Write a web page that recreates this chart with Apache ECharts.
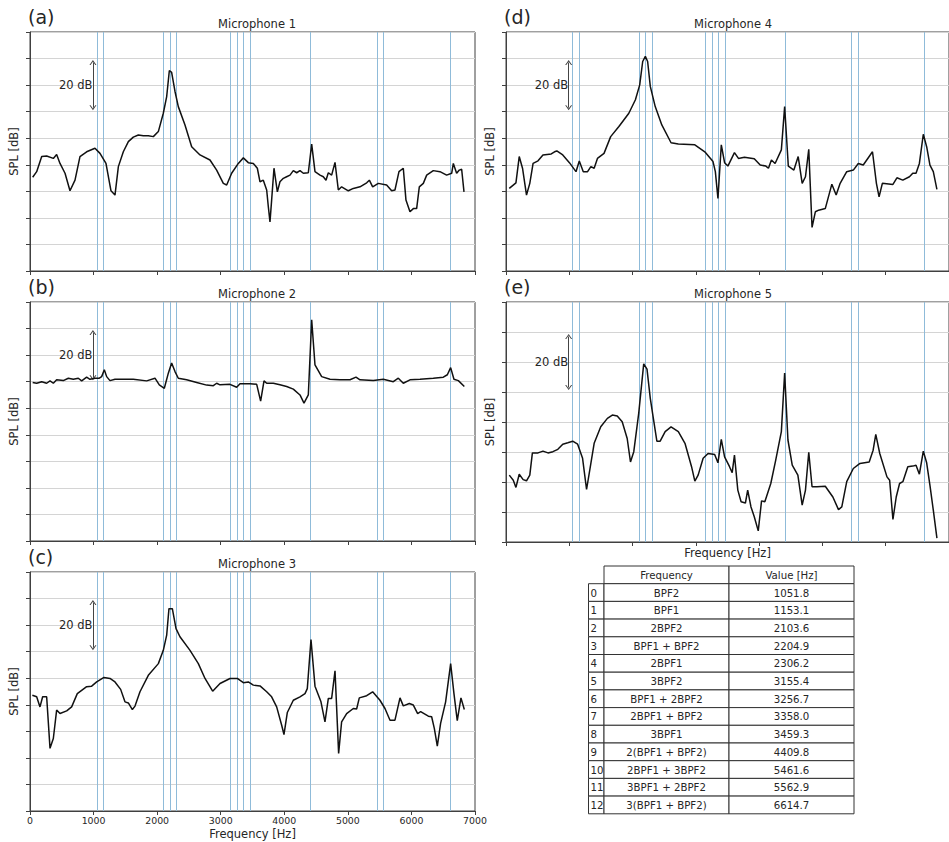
<!DOCTYPE html>
<html>
<head>
<meta charset="utf-8">
<script src="https://cdn.jsdelivr.net/npm/echarts@6/dist/echarts.min.js"></script>
<style>
html,body{margin:0;padding:0;background:#fff;}
#chart{width:949px;height:842px;}
</style>
</head>
<body>
<div id="chart"></div>
<script>
// ---------------- DATA ----------------
const harmonicLabels = ['BPF2','BPF1','2BPF2','BPF1 + BPF2','2BPF1','3BPF2','BPF1 + 2BPF2','2BPF1 + BPF2','3BPF1','2(BPF1 + BPF2)','2BPF1 + 3BPF2','3BPF1 + 2BPF2','3(BPF1 + BPF2)'];
const harmonicFreqs = [1051.8,1153.1,2103.6,2204.9,2306.2,3155.4,3256.7,3358.0,3459.3,4409.8,5461.6,5562.9,6614.7];
const tableHeader = ['Frequency','Value [Hz]'];
const panelLabels = ['(a)','(b)','(c)','(d)','(e)'];
const panelTitles = ['Microphone 1','Microphone 2','Microphone 3','Microphone 4','Microphone 5'];

// SPL spectra: [frequency Hz, SPL dB] (relative level)
const mic1 = [[42,35.3],[105,37.4],[184,43.1],[262,43.3],[367,42.4],[419,43.9],[472,40.5],[551,36.8],[629,30.2],[708,34.2],[786,43.1],[891,44.9],[1022,46.2],[1101,44.3],[1195,40.5],[1274,30.2],[1337,28.6],[1390,39.3],[1468,44.9],[1547,48.7],[1625,50.4],[1704,51.2],[1783,50.9],[1861,50.9],[1940,50.6],[2019,52.5],[2097,59.4],[2150,65.7],[2192,75.5],[2228,74.8],[2281,67.6],[2333,61.9],[2438,55.0],[2543,46.8],[2674,43.7],[2831,41.8],[2936,38.0],[3041,33.0],[3094,32.4],[3172,36.8],[3277,40.5],[3356,42.6],[3434,40.8],[3513,40.5],[3576,38.7],[3618,33.6],[3670,34.2],[3723,30.5],[3749,24.2],[3775,18.5],[3801,26.7],[3838,38.7],[3891,29.8],[3932,33.6],[3985,34.9],[4037,35.5],[4090,36.1],[4142,37.8],[4195,37.0],[4247,37.8],[4300,36.8],[4378,37.0],[4431,47.8],[4483,37.4],[4562,36.1],[4614,35.5],[4656,34.2],[4693,37.0],[4745,36.1],[4798,40.9],[4850,30.5],[4902,31.7],[5007,30.2],[5086,31.1],[5191,31.7],[5296,33.2],[5338,34.2],[5390,31.7],[5479,33.0],[5610,32.4],[5689,30.2],[5741,30.5],[5804,37.4],[5872,38.7],[5914,26.7],[5977,22.3],[6030,23.5],[6082,23.5],[6124,31.7],[6187,33.0],[6240,36.1],[6344,37.8],[6449,37.4],[6554,36.1],[6633,36.8],[6659,40.5],[6711,36.8],[6753,38.0],[6790,38.3],[6827,29.8]];
const mic2 = [[42,59.7],[105,59.4],[184,60.0],[262,59.4],[315,60.3],[367,59.4],[419,60.7],[524,60.4],[603,61.3],[681,60.9],[760,61.3],[813,60.3],[891,61.7],[943,60.9],[1022,61.3],[1091,61.3],[1127,61.9],[1169,64.5],[1206,61.9],[1258,60.4],[1337,60.9],[1468,60.9],[1625,60.9],[1835,60.3],[1966,61.3],[2034,58.8],[2113,57.5],[2176,63.2],[2228,67.0],[2281,63.8],[2333,61.3],[2464,60.7],[2622,59.7],[2779,58.7],[2884,58.5],[2936,59.4],[2989,58.8],[3146,59.0],[3251,57.9],[3303,59.2],[3461,59.2],[3566,59.0],[3628,52.7],[3681,60.3],[3723,59.4],[3828,59.4],[3932,58.8],[4037,58.2],[4142,57.2],[4247,55.0],[4310,51.9],[4378,55.0],[4431,83.3],[4483,66.3],[4588,61.9],[4719,60.9],[4876,60.7],[5034,60.7],[5128,61.7],[5191,60.7],[5400,60.4],[5558,60.9],[5715,60.0],[5794,61.3],[5872,59.4],[5977,60.7],[6135,60.9],[6344,61.3],[6502,61.7],[6565,62.6],[6617,65.3],[6669,60.9],[6738,60.4],[6832,58.2]];
const mic3 = [[37,43.6],[105,43.0],[157,39.2],[199,43.0],[262,43.0],[315,23.6],[367,27.3],[419,38.0],[472,36.7],[577,37.7],[655,39.2],[744,44.2],[891,46.8],[970,47.0],[1049,48.6],[1164,50.3],[1258,49.9],[1337,48.6],[1426,45.8],[1494,41.1],[1547,40.7],[1610,38.2],[1652,39.5],[1730,44.9],[1861,51.1],[2019,55.5],[2097,60.5],[2150,66.2],[2186,76.2],[2239,76.2],[2297,68.7],[2359,65.6],[2517,60.5],[2648,55.5],[2753,49.9],[2873,45.1],[2989,48.0],[3146,49.9],[3261,49.9],[3356,48.3],[3434,48.6],[3513,47.4],[3618,47.1],[3723,44.9],[3801,43.0],[3880,39.2],[3959,32.3],[3995,28.8],[4048,37.1],[4142,41.7],[4247,43.0],[4326,44.2],[4362,46.1],[4420,64.6],[4483,47.0],[4577,41.1],[4640,33.6],[4693,42.4],[4745,42.4],[4798,52.8],[4855,21.7],[4902,33.6],[4981,36.7],[5086,38.6],[5138,38.4],[5180,42.6],[5296,43.4],[5390,44.9],[5505,41.7],[5584,38.6],[5663,34.2],[5741,34.2],[5820,42.6],[5872,39.6],[5967,40.5],[6030,39.9],[6098,36.7],[6145,37.4],[6266,35.7],[6318,35.5],[6360,31.1],[6407,24.4],[6459,33.0],[6538,41.1],[6617,55.5],[6669,44.2],[6721,34.0],[6779,42.6],[6832,38.2]];
const mic4 = [[52,31.1],[157,33.2],[209,43.1],[261,38.7],[324,28.6],[376,33.0],[428,40.5],[506,41.5],[584,43.7],[715,44.1],[767,44.9],[803,45.2],[897,43.7],[1002,40.8],[1106,37.4],[1158,41.4],[1221,37.4],[1289,37.4],[1341,39.3],[1393,38.7],[1445,42.4],[1549,44.3],[1654,50.6],[1784,54.4],[1941,59.4],[2045,64.5],[2113,70.1],[2160,78.9],[2202,80.8],[2238,78.9],[2280,69.5],[2358,61.9],[2462,55.0],[2608,48.3],[2723,47.8],[2984,47.5],[3141,44.9],[3271,41.2],[3308,37.4],[3349,27.3],[3402,47.5],[3454,40.8],[3506,39.5],[3610,44.6],[3673,42.4],[3767,42.8],[3923,42.3],[4017,39.9],[4106,39.5],[4147,38.7],[4194,41.8],[4252,40.5],[4351,45.6],[4403,61.9],[4461,39.5],[4549,38.0],[4617,43.1],[4680,33.0],[4732,35.5],[4784,45.8],[4836,16.4],[4888,22.3],[4940,22.9],[5045,23.5],[5149,32.7],[5217,28.6],[5280,33.0],[5384,37.4],[5488,38.0],[5567,40.5],[5645,39.9],[5791,44.9],[5853,33.0],[5895,27.9],[5947,33.0],[6114,32.6],[6177,35.1],[6270,34.2],[6375,35.5],[6427,36.8],[6479,36.8],[6532,40.5],[6594,51.5],[6647,46.8],[6699,39.9],[6752,37.4],[6809,30.7]];
const mic5 = [[52,22.3],[115,20.6],[157,18.2],[209,22.6],[271,20.8],[324,20.4],[376,22.3],[417,29.7],[506,29.7],[584,30.3],[663,29.7],[741,30.1],[819,30.9],[897,32.6],[976,33.1],[1054,33.6],[1132,32.6],[1210,27.9],[1273,17.5],[1341,26.2],[1393,32.9],[1497,38.4],[1602,41.2],[1680,42.3],[1758,42.0],[1836,40.1],[1915,34.5],[1967,26.7],[2019,30.1],[2097,42.9],[2176,59.4],[2228,57.6],[2280,47.9],[2332,40.7],[2384,33.6],[2436,33.6],[2515,36.8],[2608,38.4],[2723,36.8],[2828,32.9],[2932,25.1],[2984,20.3],[3036,22.3],[3115,27.9],[3193,29.5],[3297,29.2],[3349,26.4],[3402,34.2],[3454,28.4],[3532,25.1],[3574,23.1],[3610,29.0],[3663,17.3],[3715,13.4],[3783,13.0],[3819,17.3],[3871,11.7],[3923,8.4],[3986,3.7],[4038,13.7],[4090,13.4],[4184,19.5],[4262,27.3],[4351,36.8],[4403,56.3],[4455,34.0],[4523,25.6],[4612,22.3],[4680,12.3],[4732,17.3],[4784,29.9],[4836,18.4],[4914,18.4],[5045,18.6],[5165,15.0],[5254,10.8],[5306,11.7],[5384,20.1],[5488,24.5],[5593,26.2],[5739,26.7],[5801,30.6],[5843,35.9],[5906,29.5],[6020,21.7],[6062,20.6],[6114,7.5],[6166,15.0],[6219,19.5],[6271,20.1],[6349,25.1],[6427,25.3],[6479,25.6],[6532,22.6],[6594,30.3],[6647,26.4],[6699,18.9],[6752,10.6],[6809,1.3]];
const spectra = [mic1, mic2, mic3, mic4, mic5];
const yMaxes = [90, 90, 90, 90, 80];
const arrowCentres = [70, 70, 70, 70, 60];
const arrowFreq = 990;
const arrowHalf = 8.5;
const arrowText = '20 dB';

// ---------------- LAYOUT ----------------
const FONT = 'DejaVu Sans';
const TXT = '#262626';
const AX = '#404040';
const grids = [
  {left: 30, top: 32, width: 445, height: 239},
  {left: 30, top: 302, width: 445, height: 239},
  {left: 30, top: 572, width: 445, height: 239},
  {left: 506, top: 32, width: 446.6, height: 239},
  {left: 506, top: 302, width: 446.6, height: 240}
];
const showTickLabels = [false, false, true, false, false];
const showXName = [false, false, true, false, true];
const xNameGap = [0, 0, 17, 0, 5];

const chev = 'path://M0,10 L5,0 L10,10 L8.4,10 L5,3.2 L1.6,10 Z';

const xAxes = [], yAxes = [], series = [], gridOpts = [], graphics = [];
grids.forEach((g, i) => {
  gridOpts.push({left: g.left, top: g.top, width: g.width, height: g.height, show: true,
    borderColor: AX, borderWidth: 1, backgroundColor: 'transparent', containLabel: false});
  xAxes.push({
    type: 'value', gridIndex: i, min: 0, max: 7000, interval: 1000,
    name: showXName[i] ? 'Frequency [Hz]' : '', nameLocation: 'middle', nameGap: xNameGap[i],
    nameTextStyle: {fontFamily: FONT, fontSize: 11.5, color: TXT},
    axisLine: {show: true, onZero: false, lineStyle: {color: AX, width: 1}},
    axisTick: {show: true, length: 4, lineStyle: {color: AX, width: 1}},
    axisLabel: {show: showTickLabels[i], fontFamily: FONT, fontSize: 9.4, color: TXT, margin: 5,
      formatter: v => String(v)},
    splitLine: {show: false}
  });
  yAxes.push({
    type: 'value', gridIndex: i, min: 0, max: yMaxes[i], interval: 10,
    name: 'SPL [dB]', nameLocation: 'middle', nameGap: 10,
    nameTextStyle: {fontFamily: FONT, fontSize: 11.5, color: TXT},
    axisLine: {show: true, lineStyle: {color: AX, width: 1}},
    axisTick: {show: true, length: 4, lineStyle: {color: AX, width: 1}},
    axisLabel: {show: false},
    splitLine: {show: true, lineStyle: {color: '#d4d4d4', width: 1}}
  });
  // harmonic marker lines
  series.push({
    type: 'line', xAxisIndex: i, yAxisIndex: i, data: [], z: 1, silent: true,
    markLine: {
      silent: true, animation: false, symbol: ['none', 'none'],
      label: {show: false},
      lineStyle: {color: '#8fbbd9', width: 1, type: 'solid'},
      emphasis: {disabled: true},
      data: harmonicFreqs.map(f => ({xAxis: f}))
    }
  });
  // spectrum
  series.push({
    type: 'line', xAxisIndex: i, yAxisIndex: i, data: spectra[i], z: 5,
    showSymbol: false, symbol: 'none', smooth: false, silent: true,
    lineStyle: {color: '#111', width: 1.5},
    markLine: {
      silent: true, animation: false, symbol: [chev, chev], symbolSize: [7, 5],
      label: {show: false},
      lineStyle: {color: '#444', width: 1, type: 'solid'},
      emphasis: {disabled: true},
      data: [[{coord: [arrowFreq, arrowCentres[i] + arrowHalf]}, {coord: [arrowFreq, arrowCentres[i] - arrowHalf]}]]
    },
    markPoint: {
      silent: true, animation: false, symbol: 'circle', symbolSize: 1,
      itemStyle: {color: 'rgba(0,0,0,0)'},
      label: {show: true, position: 'left', distance: 0, formatter: arrowText,
        fontFamily: FONT, fontSize: 11.5, color: TXT},
      data: [{coord: [arrowFreq, arrowCentres[i]]}]
    }
  });
  // panel letter
  graphics.push({type: 'text', x: g.left - 2, y: g.top - 15, silent: true,
    style: {text: panelLabels[i], font: '19px ' + FONT, fontSize: 19, fontFamily: FONT, fill: TXT,
      align: 'left', textAlign: 'left', verticalAlign: 'middle', textVerticalAlign: 'middle'}});
  // title
  graphics.push({type: 'text', x: g.left + 227, y: g.top - 8, silent: true,
    style: {text: panelTitles[i], font: '11.5px ' + FONT, fontSize: 11.5, fontFamily: FONT, fill: TXT,
      align: 'center', textAlign: 'center', verticalAlign: 'middle', textVerticalAlign: 'middle'}});
});

// ---------------- TABLE ----------------
const tX = [588.5, 604, 729, 854];
const tTop = 566, rowH = 17.7;
const cellStyle = {fill: '#fff', stroke: '#333', lineWidth: 1};
const tfs = 10.2;
function txt(x, y, s, al) {
  return {type: 'text', x: x, y: y, silent: true,
    style: {text: s, font: tfs + 'px ' + FONT, fontSize: tfs, fontFamily: FONT, fill: TXT,
      align: al, textAlign: al, verticalAlign: 'middle', textVerticalAlign: 'middle'}};
}
// header
for (let c = 0; c < 2; c++) {
  graphics.push({type: 'rect', silent: true, shape: {x: tX[c + 1], y: tTop, width: tX[c + 2] - tX[c + 1], height: rowH}, style: cellStyle});
  graphics.push(txt((tX[c + 1] + tX[c + 2]) / 2, tTop + rowH / 2 + 0.5, tableHeader[c], 'center'));
}
harmonicLabels.forEach((lab, r) => {
  const y = tTop + rowH * (r + 1);
  for (let c = 0; c < 3; c++) {
    graphics.push({type: 'rect', silent: true, shape: {x: tX[c], y: y, width: tX[c + 1] - tX[c], height: rowH}, style: cellStyle});
  }
  graphics.push(txt(tX[0] + 2, y + rowH / 2 + 0.5, String(r), 'left'));
  graphics.push(txt((tX[1] + tX[2]) / 2, y + rowH / 2 + 0.5, lab, 'center'));
  graphics.push(txt((tX[2] + tX[3]) / 2, y + rowH / 2 + 0.5, harmonicFreqs[r].toFixed(1), 'center'));
});

const chart = echarts.init(document.getElementById('chart'), null, {renderer: 'svg', width: 949, height: 842});
chart.setOption({
  animation: false,
  backgroundColor: '#fff',
  textStyle: {fontFamily: FONT},
  grid: gridOpts,
  xAxis: xAxes,
  yAxis: yAxes,
  series: series,
  graphic: {elements: graphics}
});
</script>
</body>
</html>
